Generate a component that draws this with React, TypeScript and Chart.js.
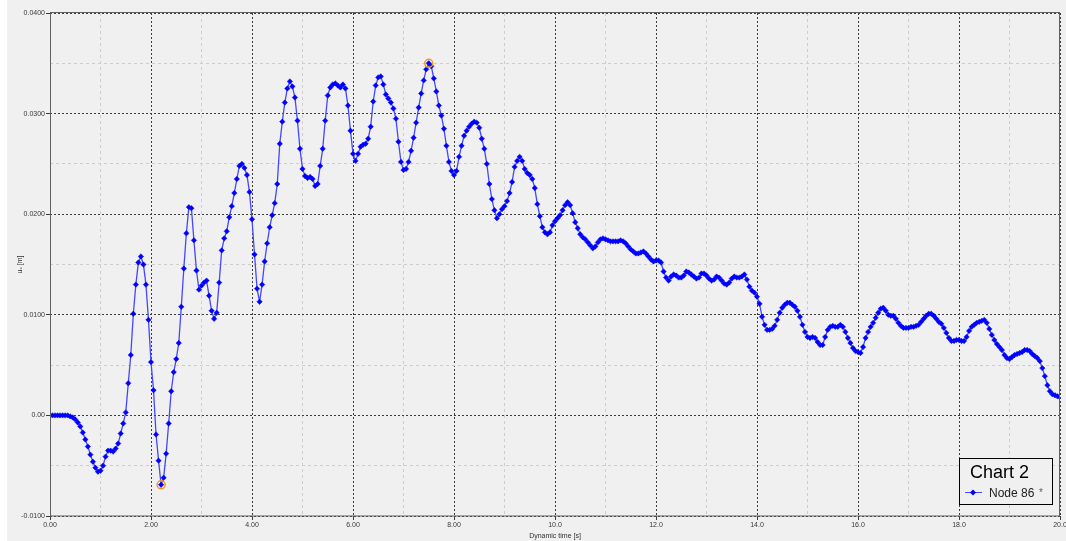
import React, { useEffect, useRef } from "react";
import { Chart, registerables } from "chart.js";

Chart.register(...registerables);

// Sampling step of the series (seconds)
const TIME_STEP = 0.05;

// u_x [m] for Node 86, 0.00 s .. 4.95 s
const UX_00_05 = [
  0, 0, 0, 0, 0, 0, 0, 0, -0.0001, -0.0002, -0.0004, -0.0007, -0.0011, -0.0017, -0.0024, -0.0031, -0.0039, -0.0046, -0.0052, -0.0056,
  -0.0055, -0.005, -0.0041, -0.0035, -0.0035, -0.0036, -0.0033, -0.0028, -0.0018, -0.0008, 0.0003, 0.0032, 0.006, 0.0101, 0.013, 0.0152, 0.0158, 0.015, 0.013, 0.0095,
  0.0053, 0.0025, -0.0019, -0.0045, -0.0069, -0.0062, -0.0038, -0.0008, 0.0024, 0.0043, 0.0056, 0.0072, 0.0108, 0.0146, 0.0181, 0.0207, 0.0206, 0.0174, 0.0144, 0.0125,
  0.0129, 0.0132, 0.0134, 0.0119, 0.0104, 0.0096, 0.0102, 0.0132, 0.0164, 0.0176, 0.0183, 0.0197, 0.0208, 0.0221, 0.0235, 0.0248, 0.025, 0.0246, 0.0239, 0.0222,
  0.0195, 0.016, 0.0126, 0.0113, 0.013, 0.0153, 0.0171, 0.0187, 0.0199, 0.0211, 0.023, 0.027, 0.0292, 0.0311, 0.0325, 0.0332, 0.0327, 0.0316, 0.0293, 0.0265,
];

// 5.00 s .. 9.95 s
const UX_05_10 = [
  0.0245, 0.0238, 0.0236, 0.0237, 0.0235, 0.0228, 0.023, 0.0248, 0.0265, 0.0293, 0.0318, 0.0326, 0.0329, 0.033, 0.0328, 0.0326, 0.0329, 0.0325, 0.0308, 0.0283,
  0.026, 0.0253, 0.026, 0.0267, 0.0269, 0.027, 0.0275, 0.0287, 0.0312, 0.0328, 0.0336, 0.0337, 0.0329, 0.0319, 0.0315, 0.0311, 0.0305, 0.0295, 0.0272, 0.0252,
  0.0244, 0.0245, 0.0252, 0.0263, 0.0276, 0.0291, 0.0306, 0.032, 0.0333, 0.0344, 0.035, 0.0347, 0.0335, 0.0322, 0.0308, 0.0298, 0.0285, 0.0268, 0.0252, 0.0243,
  0.0239, 0.0243, 0.0257, 0.0268, 0.0278, 0.0283, 0.0287, 0.029, 0.0292, 0.0291, 0.0286, 0.0275, 0.0265, 0.025, 0.023, 0.0215, 0.0204, 0.0196, 0.02, 0.0205,
  0.0208, 0.0213, 0.0221, 0.0232, 0.0247, 0.0253, 0.0257, 0.0253, 0.0245, 0.0241, 0.0239, 0.0235, 0.0226, 0.021, 0.0198, 0.0187, 0.0182, 0.018, 0.0182, 0.0189,
];

// 10.00 s .. 14.95 s
const UX_10_15 = [
  0.0193, 0.0196, 0.0199, 0.0204, 0.0209, 0.0212, 0.0209, 0.0201, 0.0192, 0.0186, 0.018, 0.0177, 0.0175, 0.0172, 0.0169, 0.0166, 0.0168, 0.0172, 0.0175, 0.0176,
  0.0175, 0.0174, 0.0173, 0.0173, 0.0173, 0.0173, 0.0174, 0.0173, 0.0171, 0.0168, 0.0165, 0.0163, 0.0161, 0.0161, 0.0162, 0.0163, 0.0161, 0.0158, 0.0155, 0.0153,
  0.0154, 0.0154, 0.0152, 0.0143, 0.0137, 0.0134, 0.0138, 0.014, 0.0139, 0.0137, 0.0137, 0.0139, 0.0143, 0.0142, 0.014, 0.0138, 0.0136, 0.0137, 0.0141, 0.0141,
  0.0139, 0.0136, 0.0134, 0.0135, 0.0138, 0.0137, 0.0134, 0.0131, 0.013, 0.0132, 0.0136, 0.0138, 0.0137, 0.0137, 0.0138, 0.014, 0.0135, 0.0128, 0.0124, 0.0122,
  0.0118, 0.0111, 0.0098, 0.009, 0.0085, 0.0085, 0.0086, 0.0089, 0.0095, 0.0102, 0.0107, 0.011, 0.0112, 0.0112, 0.011, 0.0108, 0.0104, 0.0098, 0.009, 0.0083,
];

// 15.00 s .. 20.00 s
const UX_15_20 = [
  0.0078, 0.0077, 0.0078, 0.0077, 0.0073, 0.007, 0.007, 0.0078, 0.0085, 0.0088, 0.0089, 0.0088, 0.0088, 0.009, 0.0088, 0.0083, 0.0077, 0.0072, 0.0067, 0.0064,
  0.0063, 0.0062, 0.0068, 0.0077, 0.0083, 0.0088, 0.0092, 0.0097, 0.0102, 0.0106, 0.0107, 0.0104, 0.01, 0.0099, 0.0099, 0.0096, 0.0092, 0.0089, 0.0087, 0.0087,
  0.0087, 0.0088, 0.0088, 0.0089, 0.009, 0.0093, 0.0096, 0.0099, 0.0101, 0.0101, 0.0099, 0.0096, 0.0093, 0.0091, 0.0087, 0.0082, 0.0077, 0.0074, 0.0074, 0.0075,
  0.0075, 0.0074, 0.0074, 0.0078, 0.0084, 0.0088, 0.009, 0.0092, 0.0093, 0.0094, 0.0095, 0.0092, 0.0086, 0.008, 0.0075, 0.0071, 0.0068, 0.0065, 0.006, 0.0057,
  0.0056, 0.0058, 0.006, 0.0061, 0.0062, 0.0063, 0.0065, 0.0065, 0.0064, 0.0061, 0.0059, 0.0057, 0.0054, 0.0047, 0.0039, 0.003, 0.0024, 0.0021, 0.002, 0.0019,
  0.0018,
];

const X_TICK_LABELS = ["0.00", "2.00", "4.00", "6.00", "8.00", "10.0", "12.0", "14.0", "16.0", "18.0", "20.0"];
const Y_TICK_LABELS = ["-0.0100", "0.00", "0.0100", "0.0200", "0.0300", "0.0400"];

const CHART_TITLE = "Chart 2";
const SERIES_NAME = "Node 86";
const SERIES_MARK = "*";
const X_TITLE = "Dynamic time [s]";
const Y_TITLE = "uₓ [m]";

const FONT = '"Liberation Sans", Arial, sans-serif';

export default function App() {
  const ref = useRef<HTMLCanvasElement | null>(null);

  useEffect(() => {
    const canvas = ref.current;
    if (!canvas) return;
    const ux = [...UX_00_05, ...UX_05_10, ...UX_10_15, ...UX_15_20];
    const points = ux.map((v, i) => ({ x: Math.round(i * TIME_STEP * 100) / 100, y: v }));
    let iMin = 0;
    let iMax = 0;
    ux.forEach((v, i) => {
      if (v < ux[iMin]) iMin = i;
      if (v > ux[iMax]) iMax = i;
    });
    const extremes = [points[iMin], points[iMax]];

    const majorX = (v: number) => Math.abs(v / 2 - Math.round(v / 2)) < 1e-6;
    const majorY = (v: number) => Math.round(v * 200) % 2 === 0;

    const bgPlugin = {
      id: "bg",
      beforeDraw(chart: any) {
        const c = chart.ctx;
        c.save();
        c.fillStyle = "#ffffff";
        c.fillRect(0, 0, chart.width, chart.height);
        c.fillStyle = "#f0f0f0";
        c.fillRect(7, 0, chart.width - 7, chart.height);
        c.restore();
      },
    };

    const framePlugin = {
      id: "frame",
      afterDraw(chart: any) {
        const c = chart.ctx;
        const a = chart.chartArea;
        c.save();
        c.strokeStyle = "#606060";
        c.lineWidth = 1;
        c.setLineDash([]);
        c.strokeRect(Math.round(a.left) + 0.5, Math.round(a.top) - 0.5, Math.round(a.right - a.left) - 1, Math.round(a.bottom - a.top) + 0.5);

        // legend box
        const bx = 959, by = 458, bw = 93, bh = 46;
        c.fillStyle = "#f0f0f0";
        c.fillRect(bx, by, bw, bh);
        c.strokeStyle = "#000000";
        c.strokeRect(bx + 0.5, by + 0.5, bw, bh);
        c.fillStyle = "#000000";
        c.font = `18px ${FONT}`;
        c.textBaseline = "alphabetic";
        c.textAlign = "left";
        c.fillText(CHART_TITLE, bx + 11, by + 20);
        const ly = by + 34.5;
        c.strokeStyle = "#4a4aff";
        c.beginPath();
        c.moveTo(bx + 6, ly);
        c.lineTo(bx + 23, ly);
        c.stroke();
        c.fillStyle = "#0000ff";
        c.beginPath();
        c.moveTo(bx + 14, ly - 3);
        c.lineTo(bx + 17, ly);
        c.lineTo(bx + 14, ly + 3);
        c.lineTo(bx + 11, ly);
        c.closePath();
        c.fill();
        c.fillStyle = "#202020";
        c.font = `12px ${FONT}`;
        c.fillText(SERIES_NAME, bx + 30, by + 39);
        c.fillStyle = "#606060";
        c.font = `10px ${FONT}`;
        c.fillText(SERIES_MARK, bx + 80, by + 38);
        c.restore();
      },
    };

    const chart = new Chart(canvas, {
      type: "line",
      data: {
        datasets: [
          {
            label: SERIES_NAME,
            data: points,
            borderColor: "#4646ff",
            borderWidth: 1.3,
            pointStyle: "rectRot",
            pointRadius: 2.7,
            pointBackgroundColor: "#0000ff",
            pointBorderColor: "#0000ff",
            pointBorderWidth: 0.5,
            tension: 0,
          },
          {
            type: "scatter",
            label: "extremes",
            data: extremes,
            order: -1,
            showLine: false,
            pointStyle: "circle",
            pointRadius: 4,
            pointBackgroundColor: "rgba(0,0,0,0)",
            pointBorderColor: "#f29a1a",
            pointBorderWidth: 1.5,
          } as any,
        ],
      },
      options: {
        responsive: false,
        animation: false,
        devicePixelRatio: 1,
        layout: { padding: { left: 7, right: 6, top: 13, bottom: 0 } },
        plugins: {
          legend: { display: false },
          tooltip: { enabled: false },
          title: { display: false },
        },
        scales: {
          x: {
            type: "linear",
            min: 0,
            max: 20,
            afterFit(s: any) {
              s.height = 25;
              s.paddingLeft = 0;
              s.paddingRight = 0;
            },
            ticks: {
              stepSize: 1,
              maxTicksLimit: 100,
              autoSkip: false,
              maxRotation: 0,
              padding: 1,
              color: "#383838",
              font: { family: FONT, size: 7 },
              callback: (v: any) => (majorX(Number(v)) ? X_TICK_LABELS[Math.round(Number(v) / 2)] : ""),
            },
            grid: {
              lineWidth: 1,
              tickLength: 4,
              color: (ctx: any) => (ctx.tick && majorX(ctx.tick.value) ? "#3c3c3c" : "#cdcdcd"),
              tickColor: (ctx: any) => (ctx.tick && majorX(ctx.tick.value) ? "#3c3c3c" : "rgba(0,0,0,0)"),
            },
            border: {
              display: false,
              dash: (ctx: any) => (ctx.tick ? (majorX(ctx.tick.value) ? [2, 2] : [3, 3]) : []),
            },
            title: {
              display: true,
              text: X_TITLE,
              color: "#303030",
              font: { family: FONT, size: 7 },
              padding: { top: 0, bottom: 1 },
            },
          },
          y: {
            type: "linear",
            min: -0.01,
            max: 0.04,
            afterFit(s: any) {
              s.width = 43;
              s.paddingTop = 0;
              s.paddingBottom = 0;
            },
            ticks: {
              stepSize: 0.005,
              maxTicksLimit: 100,
              autoSkip: false,
              padding: 1,
              color: "#383838",
              font: { family: FONT, size: 7 },
              callback: (v: any) => {
                const k = Math.round(Number(v) * 200);
                return k % 2 === 0 ? Y_TICK_LABELS[(k + 2) / 2] : "";
              },
            },
            grid: {
              lineWidth: 1,
              tickLength: 4,
              color: (ctx: any) => (ctx.tick && majorY(ctx.tick.value) ? "#3c3c3c" : "#cdcdcd"),
              tickColor: (ctx: any) => (ctx.tick && majorY(ctx.tick.value) ? "#3c3c3c" : "rgba(0,0,0,0)"),
            },
            border: {
              display: false,
              dash: (ctx: any) => (ctx.tick ? (majorY(ctx.tick.value) ? [2, 2] : [3, 3]) : []),
            },
            title: {
              display: true,
              text: Y_TITLE,
              color: "#303030",
              font: { family: FONT, size: 7 },
              padding: { top: 9, bottom: 0 },
            },
          },
        },
      } as any,
      plugins: [bgPlugin, framePlugin],
    });

    return () => chart.destroy();
  }, []);

  return (
    <div style={{ position: "fixed", left: 0, top: 0, width: 1066, height: 541, background: "#ffffff" }}>
      <canvas ref={ref} width={1066} height={541} style={{ display: "block", width: 1066, height: 541 }} />
    </div>
  );
}
